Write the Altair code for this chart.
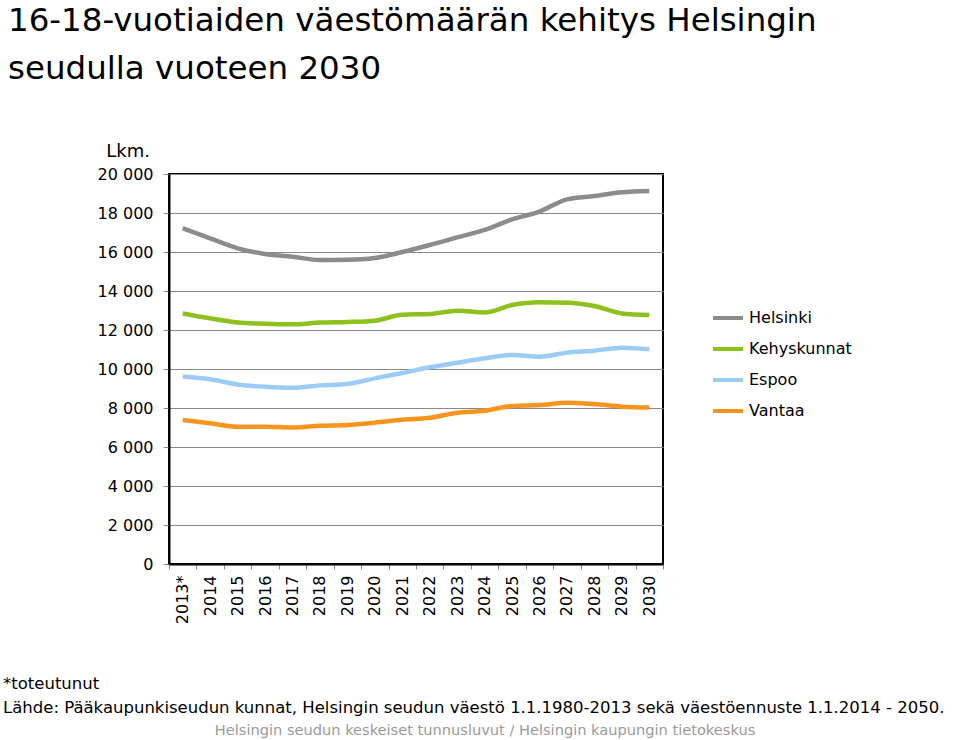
import altair as alt
import pandas as pd

years = ["2013*", "2014", "2015", "2016", "2017", "2018", "2019", "2020", "2021",
         "2022", "2023", "2024", "2025", "2026", "2027", "2028", "2029", "2030"]
series = ["Helsinki", "Kehyskunnat", "Espoo", "Vantaa"]
colors = ["#8c8c8c", "#8cc11e", "#9ccbf5", "#f7941d"]

helsinki = [17220, 16700, 16190, 15900, 15760, 15590, 15600, 15690, 16000,
            16360, 16750, 17130, 17670, 18070, 18700, 18870, 19060, 19130]
kehyskunnat = [12850, 12600, 12390, 12320, 12290, 12380, 12410, 12480, 12785,
               12820, 12990, 12900, 13280, 13420, 13400, 13230, 12850, 12770]
espoo = [9610, 9470, 9210, 9090, 9040, 9160, 9230, 9520, 9795,
         10090, 10320, 10550, 10720, 10630, 10840, 10940, 11090, 11010]
vantaa = [7385, 7215, 7040, 7040, 7000, 7090, 7130, 7250, 7400,
          7500, 7760, 7860, 8100, 8150, 8270, 8200, 8070, 8020]

y_ticks = [0, 2000, 4000, 6000, 8000, 10000, 12000, 14000, 16000, 18000, 20000]

title1 = "16-18-vuotiaiden väestömäärän kehitys Helsingin"
title2 = "seudulla vuoteen 2030"
y_unit = "Lkm."
note1 = "*toteutunut"
note2 = "Lähde: Pääkaupunkiseudun kunnat, Helsingin seudun väestö 1.1.1980-2013 sekä väestöennuste 1.1.2014 - 2050."
note3 = "Helsingin seudun keskeiset tunnusluvut / Helsingin kaupungin tietokeskus"

rows = []
for name, vals in zip(series, [helsinki, kehyskunnat, espoo, vantaa]):
    for yr, v in zip(years, vals):
        rows.append({"year": yr, "value": v, "series": name})
df = pd.DataFrame(rows)

FONT = "DejaVu Sans"
PL, PT, W, H = 169, 174, 494, 390

lines = alt.Chart(df).mark_line(interpolate="monotone", strokeWidth=4.5).encode(
    x=alt.X("year:N", sort=years,
            scale=alt.Scale(type="band", paddingInner=0, paddingOuter=0),
            axis=alt.Axis(title=None, labelAngle=-90, tickBand="extent",
                          labelFontSize=16, labelFont=FONT, labelColor="#000",
                          tickColor="#888", tickSize=5, labelPadding=6,
                          domainColor="#000", domainWidth=2, grid=False)),
    y=alt.Y("value:Q", scale=alt.Scale(domain=[0, 20000], nice=False),
            axis=alt.Axis(title=None, values=y_ticks,
                          labelExpr="replace(format(datum.value, ',d'), ',', ' ')",
                          labelFontSize=16, labelFont=FONT, labelColor="#000",
                          tickColor="#888", tickSize=6, labelPadding=10,
                          domainColor="#000", domainWidth=2,
                          grid=True, gridColor="#8a8a8a", gridWidth=1)),
    color=alt.Color("series:N", scale=alt.Scale(domain=series, range=colors),
                    legend=alt.Legend(title=None, orient="none", legendX=542, legendY=127,
                                      symbolType="stroke", symbolSize=900,
                                      symbolStrokeWidth=4, labelFontSize=16,
                                      labelFont=FONT, labelColor="#000",
                                      labelOffset=4, rowPadding=6, padding=0)),
)


def txt(text, x, y, size, color="#000", align="left"):
    return alt.Chart(pd.DataFrame({"t": [text]})).mark_text(
        align=align, baseline="alphabetic", fontSize=size, font=FONT, color=color
    ).encode(x=alt.value(x), y=alt.value(y), text="t:N")


texts = [
    txt(title1, 8 - PL, 31 - PT, 32.5),
    txt(title2, 8 - PL, 79 - PT, 32.5),
    txt(y_unit, 150 - PL, 157 - PT, 18, align="right"),
    txt(note1, 3 - PL, 689 - PT, 16.5),
    txt(note2, 3 - PL, 713 - PT, 16.5),
    txt(note3, 485 - PL, 735 - PT, 14.6, color="#9a9a9a", align="center"),
]

chart = alt.layer(lines, *texts).properties(
    width=W, height=H,
    padding={"left": PL, "top": PT, "right": 960 - PL - W, "bottom": 740 - PT - H},
    autosize=alt.AutoSizeParams(type="none"),
    background="white",
).configure_view(stroke="#000", strokeWidth=2)

chart.save("out.html", embed_options={"renderer": "svg", "actions": False})
